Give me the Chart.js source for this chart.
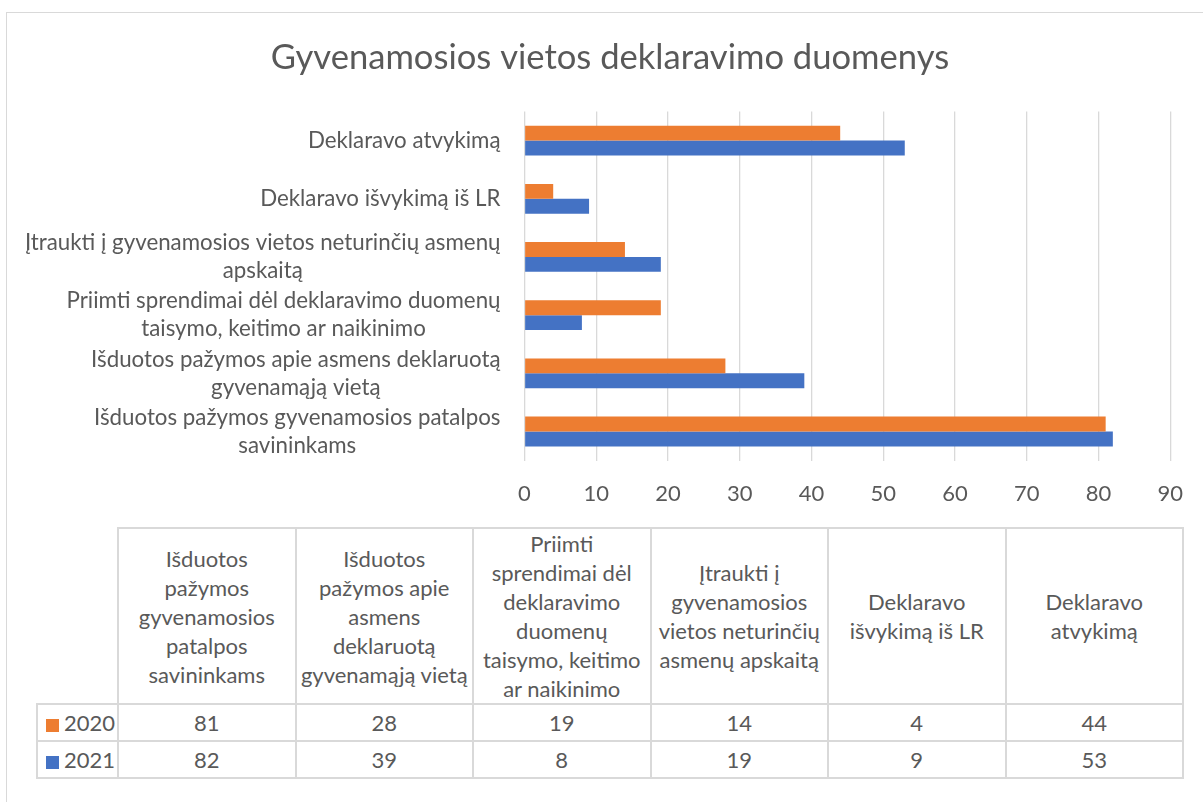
<!DOCTYPE html>
<html><head><meta charset="utf-8">
<script src="https://cdn.jsdelivr.net/npm/chart.js@4.4.1/dist/chart.umd.min.js"></script>
<style>
html,body{margin:0;padding:0;background:#fff;width:1203px;height:802px;overflow:hidden;}
#frame{position:absolute;left:6px;top:12px;width:1300px;height:900px;border:1.5px solid #d9d9d9;box-sizing:border-box;}
#wrap{position:absolute;left:0;top:0;width:1203px;height:527px;}
#tbl{position:absolute;left:36px;top:527px;border-collapse:collapse;font-family:Lato,sans-serif;color:#595959;font-size:22px;}
#tbl td{border:2px solid #d9d9d9;text-align:center;vertical-align:middle;padding:0;line-height:29px;}
#tbl tr.head td{height:172px;}
#tbl tr.data td{height:35px;}
#tbl td.cat{width:175.5px;}
#tbl td.rh{width:81px;text-align:left;padding-left:8px;box-sizing:border-box;}
.sw{display:inline-block;width:13px;height:13px;margin-right:5px;vertical-align:-1px;}
</style></head>
<body>
<div id="frame"></div>
<div id="wrap"><canvas id="c" width="1203" height="527"></canvas></div>
<table id="tbl"></table>
<script>
// ---- data ----
const categories = [
  "Išduotos pažymos gyvenamosios patalpos savininkams",
  "Išduotos pažymos apie asmens deklaruotą gyvenamąją vietą",
  "Priimti sprendimai dėl deklaravimo duomenų taisymo, keitimo ar naikinimo",
  "Įtraukti į gyvenamosios vietos neturinčių asmenų apskaitą",
  "Deklaravo išvykimą iš LR",
  "Deklaravo atvykimą"
];
const axisLabels = [
  ["Išduotos pažymos gyvenamosios patalpos", "savininkams"],
  ["Išduotos pažymos apie asmens deklaruotą", "gyvenamąją vietą"],
  ["Priimti sprendimai dėl deklaravimo duomenų", "taisymo, keitimo ar naikinimo"],
  ["Įtraukti į gyvenamosios vietos neturinčių asmenų", "apskaitą"],
  ["Deklaravo išvykimą iš LR"],
  ["Deklaravo atvykimą"]
];
const tableHeaderLines = [
  ["Išduotos", "pažymos", "gyvenamosios", "patalpos", "savininkams"],
  ["Išduotos", "pažymos apie", "asmens", "deklaruotą", "gyvenamąją vietą"],
  ["Priimti", "sprendimai dėl", "deklaravimo", "duomenų", "taisymo, keitimo", "ar naikinimo"],
  ["Įtraukti į", "gyvenamosios", "vietos neturinčių", "asmenų apskaitą"],
  ["Deklaravo", "išvykimą iš LR"],
  ["Deklaravo", "atvykimą"]
];
const seriesNames = ["2020", "2021"];
const values2020 = [81, 28, 19, 14, 4, 44];
const values2021 = [82, 39, 8, 19, 9, 53];
const xTicks = [0, 10, 20, 30, 40, 50, 60, 70, 80, 90];
const title = "Gyvenamosios vietos deklaravimo duomenys";

const colors = ["#ED7D31", "#4472C4"];
const textColor = "#595959";
const FONT = "Lato, 'Open Sans', sans-serif";

// ---- table ----
(function buildTable(){
  const t = document.getElementById('tbl');
  let h = '<tr class="head"><td style="border:none;border-right:2px solid #d9d9d9;border-bottom:2px solid #d9d9d9"></td>';
  tableHeaderLines.forEach(l => { h += '<td class="cat">' + l.join('<br>') + '</td>'; });
  h += '</tr>';
  [values2020, values2021].forEach((vals, si) => {
    h += '<tr class="data"><td class="rh"><span class="sw" style="background:' + colors[si] + '"></span>' + seriesNames[si] + '</td>';
    vals.forEach(v => { h += '<td>' + v + '</td>'; });
    h += '</tr>';
  });
  t.innerHTML = h;
})();

// ---- custom category labels (right-aligned block, centered lines) ----
const catLabelPlugin = {
  id: 'catLabels',
  afterDraw(chart) {
    const ctx = chart.ctx;
    const ys = chart.scales.y;
    ctx.save();
    ctx.font = "22.3px " + FONT;
    ctx.fillStyle = textColor;
    ctx.textAlign = 'center';
    ctx.textBaseline = 'middle';
    const right = chart.chartArea.left - 24;
    const lh = 28;
    axisLabels.forEach((lines, i) => {
      const y = ys.getPixelForValue(i);
      const w = Math.max(...lines.map(s => ctx.measureText(s).width));
      const cx = right - w / 2;
      const y0 = y - (lines.length - 1) * lh / 2;
      lines.forEach((s, k) => ctx.fillText(s, cx, y0 + k * lh));
    });
    ctx.restore();
  }
};

new Chart(document.getElementById('c'), {
  type: 'bar',
  data: {
    labels: categories,
    datasets: [
      { label: seriesNames[0], data: values2020, backgroundColor: colors[0] },
      { label: seriesNames[1], data: values2021, backgroundColor: colors[1] }
    ]
  },
  options: {
    indexAxis: 'y',
    responsive: false,
    animation: false,
    events: [],
    layout: { padding: { left: 48, right: 31, top: 0, bottom: 0 } },
    datasets: { bar: { categoryPercentage: 0.512, barPercentage: 1.0 } },
    plugins: {
      legend: { display: false },
      tooltip: { enabled: false },
      title: {
        display: true,
        text: title,
        color: textColor,
        font: { family: FONT, size: 34.6, weight: 'normal' },
        padding: { top: 37, bottom: 33 }
      }
    },
    scales: {
      x: {
        min: 0, max: 90,
        afterBuildTicks(scale) { scale.ticks = xTicks.map(v => ({ value: v })); },
        grid: { color: '#d9d9d9', lineWidth: 1.3, drawTicks: false },
        border: { display: false },
        ticks: { color: textColor, font: { family: FONT, size: 22 }, padding: 20 }
      },
      y: {
        reverse: true,
        grid: { display: false },
        border: { display: false },
        ticks: { display: false },
        afterFit(scale) { scale.width = 476.5; }
      }
    }
  },
  plugins: [catLabelPlugin]
});
</script>
</body></html>
